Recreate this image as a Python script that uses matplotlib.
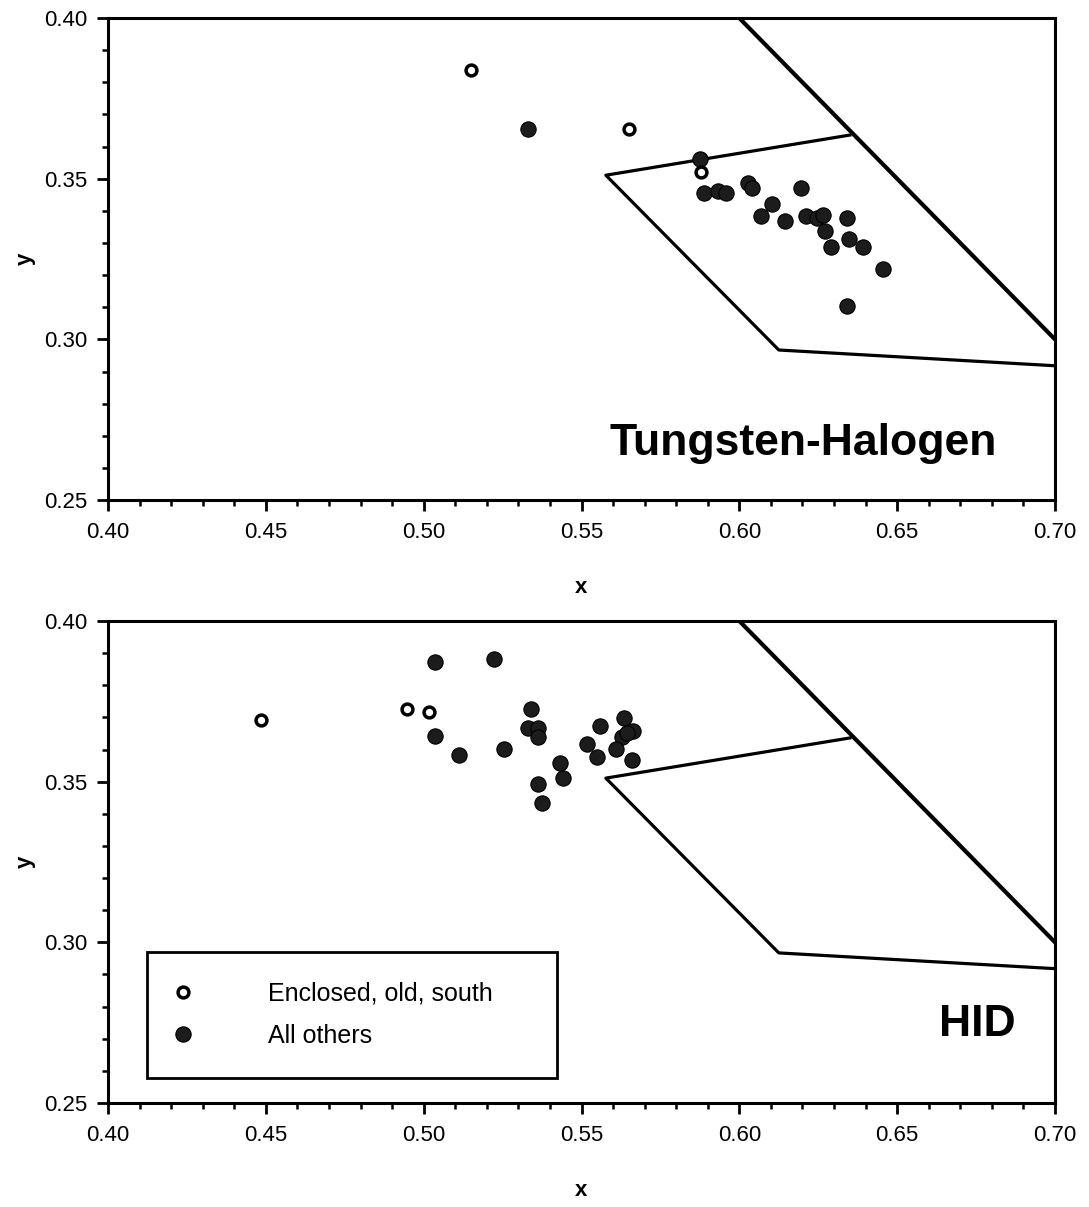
import matplotlib
matplotlib.use("Agg")
import matplotlib.pyplot as plt
from matplotlib.ticker import MultipleLocator, FormatStrFormatter
from matplotlib.lines import Line2D

plt.rcParams['font.family'] = ['Liberation Sans', 'DejaVu Sans']

# ---- data: Tungsten-Halogen panel ----
th_open_x = [0.515, 0.565, 0.588]
th_open_y = [0.384, 0.3655, 0.352]
th_fill_x = [0.533, 0.5875, 0.5888, 0.5932, 0.5958, 0.6027, 0.604, 0.6195, 0.6103,
             0.6068, 0.6144, 0.621, 0.6246, 0.6265, 0.634, 0.6271, 0.6347, 0.6391,
             0.629, 0.6455, 0.634]
th_fill_y = [0.3655, 0.356, 0.3455, 0.3462, 0.3455, 0.3486, 0.347, 0.347, 0.3421,
             0.3384, 0.3368, 0.3384, 0.3378, 0.3387, 0.3378, 0.3337, 0.3312, 0.3287,
             0.3287, 0.3219, 0.3104]

# ---- data: HID panel ----
hid_open_x = [0.4485, 0.4947, 0.5017]
hid_open_y = [0.3692, 0.3726, 0.3717]
hid_fill_x = [0.5036, 0.5223, 0.5036, 0.5112, 0.5254, 0.534, 0.533, 0.5362, 0.5362,
              0.5432, 0.5441, 0.5362, 0.5375, 0.5517, 0.5558, 0.5549, 0.5634, 0.5663,
              0.5628, 0.5609, 0.566, 0.5645]
hid_fill_y = [0.3872, 0.3882, 0.3642, 0.3583, 0.3601, 0.3726, 0.3667, 0.3667, 0.3639,
              0.3558, 0.3511, 0.3492, 0.3433, 0.3617, 0.3673, 0.3576, 0.3698, 0.3657,
              0.3639, 0.3601, 0.3567, 0.3650]

# ---- boundary lines (chromaticity region) ----
diag_x = [0.60, 0.70]
diag_y = [0.40, 0.30]
quad_x = [0.635, 0.5577, 0.6125, 0.70]
quad_y = [0.3636, 0.3511, 0.2967, 0.2918]

panel_labels = ["Tungsten-Halogen", "HID"]
legend_labels = ["Enclosed, old, south", "All others"]

fig = plt.figure(figsize=(10.89, 12.07), dpi=100)
ax1 = fig.add_axes([0.0992, 0.5857, 0.8696, 0.3993])
ax2 = fig.add_axes([0.0992, 0.0862, 0.8696, 0.3993])

dark = '#1c1c1c'

def style(ax):
    ax.set_xlim(0.40, 0.70)
    ax.set_ylim(0.25, 0.40)
    ax.xaxis.set_major_locator(MultipleLocator(0.05))
    ax.xaxis.set_minor_locator(MultipleLocator(0.01))
    ax.yaxis.set_major_locator(MultipleLocator(0.05))
    ax.yaxis.set_minor_locator(MultipleLocator(0.01))
    ax.xaxis.set_major_formatter(FormatStrFormatter('%.2f'))
    ax.yaxis.set_major_formatter(FormatStrFormatter('%.2f'))
    for s in ax.spines.values():
        s.set_linewidth(2.2)
    ax.tick_params(which='major', direction='out', length=8, width=2, labelsize=16, pad=7)
    ax.tick_params(which='minor', direction='out', length=4, width=1.8)
    ax.tick_params(axis='x', which='major', pad=8)
    ax.set_xlabel('x', fontsize=16, fontweight='bold', labelpad=24)
    ax.set_ylabel('y', fontsize=16, fontweight='bold', labelpad=6)

def draw(ax, ox, oy, fx, fy):
    ax.plot(diag_x, diag_y, color='black', lw=3.0, clip_on=True, zorder=2)
    ax.plot(quad_x, quad_y, color='black', lw=2.3, clip_on=True, zorder=2)
    ax.plot(fx, fy, 'o', ms=11, mfc=dark, mec='black', mew=0.8, ls='none', zorder=3)
    ax.plot(ox, oy, 'o', ms=7.8, mfc='white', mec='black', mew=2.5, ls='none', zorder=4)

style(ax1)
style(ax2)
draw(ax1, th_open_x, th_open_y, th_fill_x, th_fill_y)
draw(ax2, hid_open_x, hid_open_y, hid_fill_x, hid_fill_y)

ax1.text(0.9388, 0.093, panel_labels[0], transform=ax1.transAxes, ha='right', va='baseline',
         fontsize=32, fontweight='bold')
ax2.text(0.958, 0.139, panel_labels[1], transform=ax2.transAxes, ha='right', va='baseline',
         fontsize=32, fontweight='bold')

handles = [Line2D([], [], marker='o', ls='none', ms=7.8, mfc='white', mec='black', mew=2.5),
           Line2D([], [], marker='o', ls='none', ms=11, mfc=dark, mec='black', mew=0.8)]
leg = ax2.legend(handles, legend_labels, loc='lower left',
                 bbox_to_anchor=(0.0412, 0.0519, 0.4329, 0.2551), mode='expand',
                 borderaxespad=0, fontsize=18, handlelength=0.5, handletextpad=3.15,
                 borderpad=1.2, labelspacing=0.72, fancybox=False, framealpha=1)
leg.get_frame().set_edgecolor('black')
leg.get_frame().set_linewidth(2.0)

fig.savefig('out.png', dpi=100)
